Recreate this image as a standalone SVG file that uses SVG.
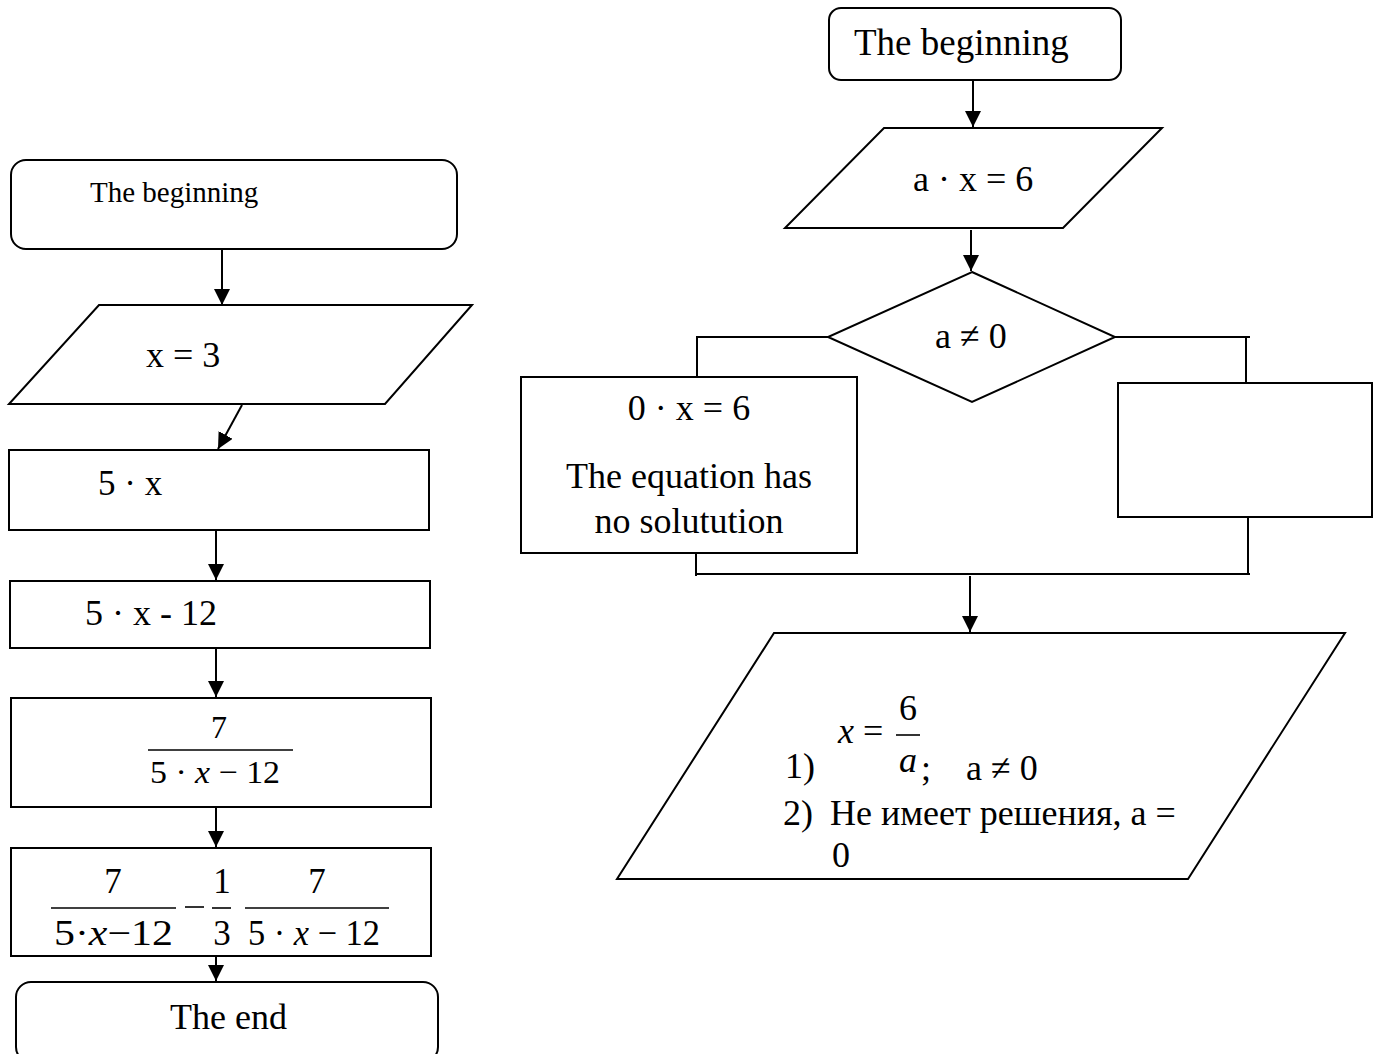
<svg xmlns="http://www.w3.org/2000/svg" width="1378" height="1054" viewBox="0 0 1378 1054">
<style>
.s{fill:#fff;stroke:#000;stroke-width:2}
.c{fill:none;stroke:#000;stroke-width:2}
.b{stroke:#000;stroke-width:1.6}
text{font-family:"Liberation Serif","Times New Roman",serif;fill:#000}
.i{font-style:italic}
</style>
<defs>
<marker id="ah" markerUnits="userSpaceOnUse" markerWidth="18" markerHeight="18" refX="16" refY="8" orient="auto">
<path d="M0,0 L16,8 L0,16 Z" fill="#000"/>
</marker>
</defs>
<rect width="1378" height="1054" fill="#fff"/>

<g id="connectors">
<line class="c" x1="222" y1="249" x2="222" y2="305" marker-end="url(#ah)"/>
<line class="c" x1="242" y1="405" x2="218" y2="449" marker-end="url(#ah)"/>
<line class="c" x1="216" y1="530" x2="216" y2="580" marker-end="url(#ah)"/>
<line class="c" x1="216" y1="648" x2="216" y2="697" marker-end="url(#ah)"/>
<line class="c" x1="216" y1="807" x2="216" y2="847" marker-end="url(#ah)"/>
<line class="c" x1="216" y1="947" x2="216" y2="981" marker-end="url(#ah)"/>
<line class="c" x1="973" y1="80" x2="973" y2="127" marker-end="url(#ah)"/>
<line class="c" x1="971" y1="230" x2="971" y2="271" marker-end="url(#ah)"/>
<polyline class="c" points="828,337 697,337 697,377"/>
<polyline class="c" points="1115,337 1250,337"/>
<line class="c" x1="1246" y1="337" x2="1246" y2="383"/>
<line class="c" x1="696" y1="553" x2="696" y2="576"/>
<line class="c" x1="1248" y1="517" x2="1248" y2="574"/>
<line class="c" x1="695" y1="574" x2="1250" y2="574"/>
<line class="c" x1="970" y1="576" x2="970" y2="632" marker-end="url(#ah)"/>
</g>

<g id="start-left">
<rect class="s" x="11" y="160" width="446" height="89" rx="15"/>
<text x="90" y="202" font-size="29">The beginning</text>
</g>
<g id="input-x3">
<polygon class="s" points="99,305 472,305 385,404 9,404"/>
<text x="146" y="367" font-size="36">x = 3</text>
</g>
<g id="proc-5x">
<rect class="s" x="9" y="450" width="420" height="80"/>
<text x="98" y="495" font-size="35">5 · x</text>
</g>
<g id="proc-5x-12">
<rect class="s" x="10" y="581" width="420" height="67"/>
<text x="85" y="625" font-size="36">5 · x - 12</text>
</g>
<g id="proc-frac">
<rect class="s" x="11" y="698" width="420" height="109"/>
<text x="219" y="738" font-size="32" text-anchor="middle">7</text>
<line class="b" x1="148" y1="750" x2="293" y2="750"/>
<text x="150" y="783" font-size="32" textLength="130" lengthAdjust="spacingAndGlyphs">5 · <tspan class="i">x</tspan> − 12</text>
</g>
<g id="proc-expr">
<rect class="s" x="11" y="848" width="420" height="108"/>
<text x="113" y="893" font-size="35" text-anchor="middle">7</text>
<line class="b" x1="51" y1="908" x2="176" y2="908"/>
<text x="54" y="945" font-size="35" textLength="119" lengthAdjust="spacingAndGlyphs">5·<tspan class="i">x</tspan>−12</text>
<line class="b" x1="185" y1="907" x2="204" y2="907"/>
<text x="222" y="893" font-size="35" text-anchor="middle">1</text>
<line class="b" x1="212" y1="908" x2="231" y2="908"/>
<text x="222" y="945" font-size="35" text-anchor="middle">3</text>
<text x="317" y="893" font-size="35" text-anchor="middle">7</text>
<line class="b" x1="245" y1="908" x2="389" y2="908"/>
<text x="248" y="945" font-size="35" textLength="132" lengthAdjust="spacingAndGlyphs">5 · <tspan class="i">x</tspan> − 12</text>
</g>
<g id="end-left">
<rect class="s" x="16" y="982" width="422" height="80" rx="15"/>
<text x="170" y="1029" font-size="36">The end</text>
</g>

<g id="start-right">
<rect class="s" x="829" y="8" width="292" height="72" rx="12"/>
<text x="854" y="55" font-size="37">The beginning</text>
</g>
<g id="input-ax6">
<polygon class="s" points="884,128 1162,128 1063,228 785,228"/>
<text x="913" y="191" font-size="36">a · x = 6</text>
</g>
<g id="decision">
<polygon class="s" points="972,272 1115,337 972,402 828,337"/>
<text x="935" y="348" font-size="36">a ≠ 0</text>
</g>
<g id="no-solution">
<rect class="s" x="521" y="377" width="336" height="176"/>
<text x="689" y="420" font-size="36" text-anchor="middle">0 · x = 6</text>
<text x="689" y="488" font-size="36" text-anchor="middle">The equation has</text>
<text x="689" y="533" font-size="36" text-anchor="middle">no solutution</text>
</g>
<g id="empty-box">
<rect class="s" x="1118" y="383" width="254" height="134"/>
</g>
<g id="output">
<polygon class="s" points="774,633 1345,633 1188,879 617,879"/>
<text x="838" y="743" font-size="36" class="i">x</text>
<text x="863" y="743" font-size="36">=</text>
<text x="908" y="720" font-size="36" text-anchor="middle">6</text>
<line class="b" x1="896" y1="735" x2="920" y2="735"/>
<text x="785" y="778" font-size="36">1)</text>
<text x="899" y="772" font-size="36" class="i">a</text>
<text x="921" y="780" font-size="36">;</text>
<text x="966" y="780" font-size="36">a ≠ 0</text>
<text x="783" y="825" font-size="36">2)</text>
<text x="830" y="825" font-size="36">Не имеет решения, а =</text>
<text x="832" y="867" font-size="36">0</text>
</g>
</svg>
